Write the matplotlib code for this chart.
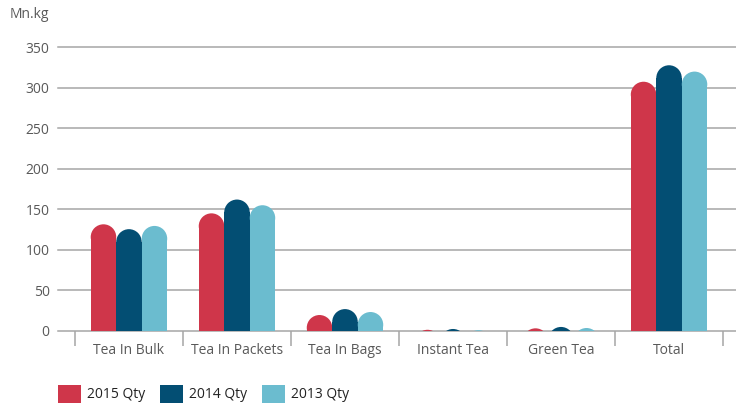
import matplotlib
matplotlib.use("Agg")
import matplotlib.pyplot as plt
from matplotlib.patches import Ellipse, Rectangle

plt.rcParams['font.family'] = ['Open Sans', 'DejaVu Sans']

categories = ["Tea In Bulk", "Tea In Packets", "Tea In Bags", "Instant Tea", "Green Tea", "Total"]
series_names = ["2015 Qty", "2014 Qty", "2013 Qty"]
qty_2015 = [131.5, 145.0, 19.7, 1.5, 3.3, 307.2]
qty_2014 = [125.5, 162.0, 27.0, 2.5, 5.0, 327.5]
qty_2013 = [129.5, 155.0, 23.4, 1.0, 3.7, 319.7]
y_ticks = [0, 50, 100, 150, 200, 250, 300, 350]

colors = ["#CF364A", "#034E73", "#6BBCCF"]
grid_color = "#A6A6A6"
text_color = "#595959"

W, H = 736, 404
fig = plt.figure(figsize=(W / 100, H / 100), dpi=100)
ax = fig.add_axes([58 / W, 73 / H, 678 / W, 284 / H])

xmin, xmax = -0.657, 5.62
ymin, ymax = 0, 350
ax.set_xlim(xmin, xmax)
ax.set_ylim(ymin, ymax)

bar_w = 0.236
px_x = 678 / (xmax - xmin)
px_y = 284 / (ymax - ymin)
cap_ry = (bar_w / 2) * px_x / px_y  # semicircular cap height in data units

for s, vals in enumerate([qty_2015, qty_2014, qty_2013]):
    off = (s - 1) * bar_w
    for i, v in enumerate(vals):
        x = i + off
        body = v - cap_ry
        if body > 0:
            ax.add_patch(Rectangle((x - bar_w / 2, 0), bar_w, body,
                                   facecolor=colors[s], edgecolor="none", zorder=3))
        ax.add_patch(Ellipse((x, v - cap_ry), bar_w, 2 * cap_ry,
                             facecolor=colors[s], edgecolor="none", zorder=3))

# horizontal grid
for t in y_ticks:
    ax.axhline(t, color=grid_color, lw=1.1, zorder=1, clip_on=False)

for sp in ax.spines.values():
    sp.set_visible(False)

ax.set_yticks(y_ticks)
ax.set_yticklabels([str(t) for t in y_ticks])
ax.tick_params(axis='y', length=0, pad=6, labelsize=10, labelcolor=text_color)

# category boundaries as ticks, labels at centres
ax.set_xticks([i - 0.5 for i in range(len(categories) + 1)])
ax.set_xticklabels([])
ax.set_xticks(range(len(categories)), minor=True)
ax.set_xticklabels(categories, minor=True)
ax.tick_params(axis='x', which='major', length=11, width=1.1, color=grid_color)
ax.tick_params(axis='x', which='minor', length=0, pad=9, labelsize=10, labelcolor=text_color)

fig.text(10 / W, 1 - 15 / H, "Mn.kg", fontsize=10, color=text_color, va='center', ha='left')

# legend: coloured squares with labels along the bottom
leg_x = [58, 160, 262]
for x0, c, name in zip(leg_x, colors, series_names):
    fig.patches.append(Rectangle((x0 / W, 1 / H), 23 / W, 18 / H, facecolor=c,
                                 edgecolor='none', transform=fig.transFigure, figure=fig))
    fig.text((x0 + 29) / W, 10 / H, name, fontsize=10, color="#222222",
             va='center', ha='left')

fig.savefig("out.png", dpi=100)
